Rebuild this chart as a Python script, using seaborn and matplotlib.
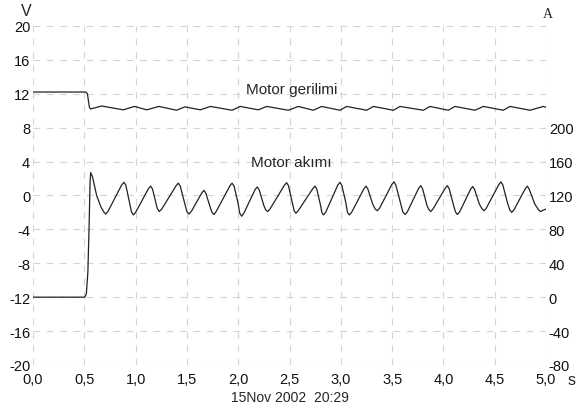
import matplotlib
matplotlib.use("Agg")
import matplotlib.pyplot as plt
import seaborn as sns
import pandas as pd

# Motor voltage (V axis)
volt_t = [0.0, 0.515, 0.53, 0.55, 0.56, 0.67, 0.88, 0.99, 1.108, 1.228, 1.40, 1.48, 1.63, 1.73,
          1.94, 2.02, 2.196, 2.278, 2.488, 2.586, 2.732, 2.813, 2.992, 3.057, 3.252, 3.317,
          3.512, 3.577, 3.805, 3.869, 4.048, 4.113, 4.308, 4.389, 4.584, 4.649, 4.844, 4.974, 5.0]
volt_v = [12.2, 12.2, 12.0, 10.4, 10.2, 10.55, 10.1, 10.5, 10.1, 10.5, 10.05, 10.45, 10.1, 10.5,
          10.05, 10.5, 10.1, 10.5, 10.05, 10.5, 10.05, 10.5, 10.05, 10.5, 10.05, 10.5,
          10.05, 10.5, 10.05, 10.5, 10.05, 10.5, 10.05, 10.5, 10.05, 10.5, 10.05, 10.5, 10.4]

# Motor current (drawn on the V scale; A = (V + 12) * 10)
curr_t = [0.0, 0.505, 0.52, 0.535, 0.548, 0.556, 0.562, 0.58, 0.62, 0.66, 0.69, 0.708, 0.73,
          0.865, 0.887, 0.905, 0.94, 0.96, 0.978, 1.0,
          1.125, 1.147, 1.165, 1.21, 1.231, 1.255,
          1.395, 1.416, 1.435, 1.48, 1.50, 1.52, 1.545,
          1.648, 1.667, 1.685, 1.73, 1.745, 1.764, 1.785,
          1.92, 1.94, 1.96, 2.0, 2.015, 2.034, 2.055,
          2.165, 2.186, 2.205, 2.25, 2.268, 2.287, 2.31,
          2.45, 2.472, 2.49, 2.53, 2.545, 2.563, 2.585,
          2.727, 2.748, 2.766, 2.805, 2.815, 2.83, 2.852,
          2.972, 2.992, 3.01, 3.05, 3.065, 3.083, 3.105,
          3.226, 3.246, 3.264, 3.31, 3.335, 3.356, 3.378,
          3.498, 3.518, 3.536, 3.58, 3.605, 3.626, 3.648,
          3.759, 3.779, 3.797, 3.84, 3.858, 3.876, 3.898,
          4.018, 4.038, 4.056, 4.1, 4.118, 4.136, 4.158,
          4.266, 4.286, 4.304, 4.35, 4.375, 4.396, 4.418,
          4.541, 4.561, 4.579, 4.625, 4.647, 4.666, 4.688,
          4.798, 4.818, 4.836, 4.89, 4.93, 4.948, 4.97, 5.0]
curr_v = [-12.0, -12.0, -11.6, -9.0, -3.0, 1.5, 2.7, 2.2, 0.0, -1.3, -1.95, -2.2, -1.9,
          1.25, 1.55, 1.2, -0.8, -1.95, -2.3, -2.0,
          0.8, 1.1, 0.75, -1.5, -1.9, -1.6,
          1.15, 1.45, 1.1, -1.0, -1.9, -2.2, -1.85,
          0.35, 0.6, 0.25, -1.5, -2.0, -2.25, -1.9,
          1.15, 1.45, 1.1, -1.0, -2.1, -2.45, -2.1,
          0.7, 1.0, 0.65, -1.2, -1.7, -1.9, -1.6,
          1.2, 1.5, 1.15, -1.0, -1.8, -2.1, -1.8,
          0.8, 1.1, 0.75, -1.3, -2.0, -2.3, -2.0,
          1.25, 1.55, 1.2, -0.9, -2.0, -2.3, -2.0,
          0.8, 1.1, 0.75, -1.0, -1.6, -1.8, -1.5,
          1.3, 1.6, 1.25, -0.8, -1.95, -2.25, -1.95,
          0.85, 1.15, 0.8, -1.2, -1.65, -1.9, -1.6,
          0.85, 1.15, 0.8, -1.2, -1.95, -2.25, -1.95,
          0.75, 1.05, 0.7, -1.0, -1.55, -1.8, -1.5,
          1.3, 1.6, 1.25, -0.9, -1.7, -2.0, -1.7,
          0.8, 1.1, 0.75, -1.0, -1.75, -1.9, -1.75, -1.6]

x_ticks = [0.0, 0.5, 1.0, 1.5, 2.0, 2.5, 3.0, 3.5, 4.0, 4.5, 5.0]
x_labels = ["0,0", "0,5", "1,0", "1,5", "2,0", "2,5", "3,0", "3,5", "4,0", "4,5", "5,0"]
v_ticks = [-20, -16, -12, -8, -4, 0, 4, 8, 12, 16, 20]
a_ticks = [-80, -40, 0, 40, 80, 120, 160, 200]

sns.set_style("white")
plt.rcParams['font.family'] = ['Liberation Sans', 'DejaVu Sans']
plt.rcParams['axes.unicode_minus'] = False

fig = plt.figure(figsize=(5.79, 4.14), dpi=100)
ax = fig.add_axes([0.057, 0.116, 0.886, 0.819])

df_v = pd.DataFrame({"t": volt_t, "v": volt_v})
df_c = pd.DataFrame({"t": curr_t, "v": curr_v})
sns.lineplot(data=df_v, x="t", y="v", ax=ax, color="#222222", linewidth=0.9, sort=False)
sns.lineplot(data=df_c, x="t", y="v", ax=ax, color="#222222", linewidth=0.9, sort=False)

ax.set_xlim(0, 5)
ax.set_ylim(-20, 20)
ax.set_xticks(x_ticks)
ax.set_xticklabels(x_labels)
ax.set_yticks(v_ticks)
ax.set_xlabel("")
ax.set_ylabel("")
for s in ax.spines.values():
    s.set_visible(False)
ax.grid(True, color="#d4d4d4", linestyle=(0, (6, 6)), linewidth=0.8)
ax.tick_params(axis="both", length=0, labelsize=10.5, colors="#111111")
ax.tick_params(axis="x", pad=5)
ax.tick_params(axis="y", pad=2)

ax2 = ax.twinx()
ax2.set_ylim(-80, 320)
ax2.set_yticks(a_ticks)
for s in ax2.spines.values():
    s.set_visible(False)
ax2.tick_params(axis="y", length=0, labelsize=10.5, colors="#111111", pad=2)

ax.text(2.52, 11.75, "Motor gerilimi", ha="center", va="bottom", fontsize=11)
ax.text(2.52, 3.1, "Motor akımı", ha="center", va="bottom", fontsize=11)
fig.text(26 / 579, 1 - 12 / 414, "V", ha="center", va="center", fontsize=11.5)
fig.text(548 / 579, 1 - 14 / 414, "A", ha="center", va="center", fontsize=10, family="Liberation Serif")
fig.text(572 / 579, 1 - 381 / 414, "s", ha="center", va="center", fontsize=11.5)
fig.text(290 / 579, 1 - 398 / 414, "15Nov 2002  20:29", ha="center", va="center", fontsize=10)

fig.savefig("out.png", dpi=100)
